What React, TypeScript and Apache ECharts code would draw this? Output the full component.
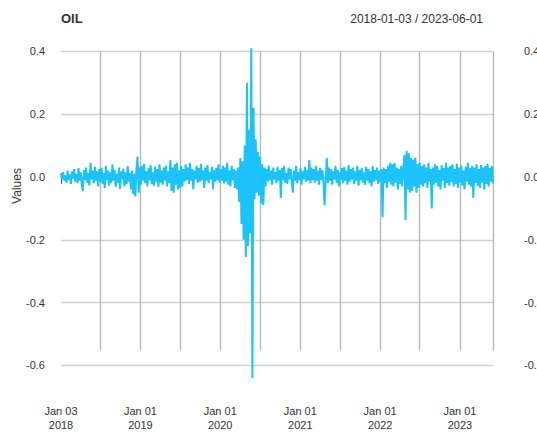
import React, { useEffect, useRef } from "react";
import * as echarts from "echarts";

// ---- data -------------------------------------------------------------
const seriesName = "OIL";
const startDate = "2018-01-03";
const endDate = "2023-06-01";
const stepDays = 5; // one reading every 5 calendar days

// daily log-returns of oil (one value per step)
const oilReturns: number[] = [
  // 2018 H1
  0.012, -0.008, 0.015, -0.012, 0.005, -0.018, 0.020, -0.010, 0.008, -0.022,
  0.018, -0.005, 0.025, -0.015, 0.010, -0.020, 0.028, -0.012, 0.015, -0.025,
  -0.045, 0.022, -0.010, 0.030, -0.018, 0.012, -0.028, 0.045, -0.008, 0.020,
  -0.020, 0.032, -0.012, 0.018, -0.030, 0.025,
  // 2018 H2
  -0.015, 0.030, -0.022, 0.012, -0.035, 0.035, -0.010, 0.020, -0.028, 0.015,
  -0.018, 0.040, -0.012, 0.022, -0.032, 0.010, -0.020, 0.030, -0.038, 0.018,
  -0.008, 0.026, -0.030, 0.015, -0.022, 0.035, -0.015, 0.012, -0.040, 0.020,
  -0.055, 0.010, -0.062, 0.025, 0.065, -0.050, 0.030,
  // 2019 H1
  -0.025, 0.035, -0.012, 0.042, -0.020, 0.018, -0.030, 0.028, -0.010, 0.038,
  -0.022, 0.015, -0.028, 0.032, -0.015, 0.025, -0.032, 0.040, -0.018, 0.020,
  -0.025, 0.030, -0.012, 0.036, -0.030, 0.018, -0.020,
  0.054, -0.045, 0.030, -0.050, 0.040, -0.025, 0.045, -0.040, 0.020, -0.035,
  0.035, -0.030, 0.025,
  // 2019 H2
  -0.015, 0.040, -0.010, 0.030, -0.022, 0.045, -0.012, 0.025, -0.040, 0.020,
  -0.008, 0.035, -0.018, 0.028, -0.015, 0.042, -0.010, 0.020, -0.035, 0.030,
  -0.012, 0.038, -0.020, 0.015, -0.008, 0.032, -0.040, 0.022, -0.015, 0.028,
  -0.010, 0.040, -0.018, 0.025, -0.012, 0.035, -0.020,
  0.030, -0.015, 0.045, -0.025, 0.020, -0.030, 0.035, -0.010, 0.025, -0.035,
  0.020,
  // 2020 crash
  -0.040, 0.030, -0.080, 0.060, -0.150, 0.050, -0.200, 0.100, -0.255, 0.300,
  -0.220, 0.150, -0.180, 0.410, -0.640, 0.220, -0.070, 0.120, -0.050, 0.080,
  -0.060, 0.065, -0.085, 0.040, -0.090, 0.030, -0.030,
  // 2020 H2
  0.025, -0.015, 0.035, -0.010, 0.020, -0.025, 0.030, -0.008, 0.015, -0.020,
  0.032, -0.012, 0.022, -0.067, 0.028, -0.010, 0.035, -0.018, 0.012, -0.022,
  0.030, -0.008, 0.025, -0.015, -0.050, 0.020, -0.012, 0.035, -0.020, 0.015,
  -0.010, 0.028, -0.025, 0.018, -0.008, 0.032, -0.015, 0.022, -0.012, 0.054,
  -0.020, 0.030, -0.010, 0.025, -0.018, 0.035, -0.012, 0.020, -0.025, 0.028,
  -0.010, 0.022, -0.015,
  -0.090, -0.010, 0.060,
  // 2021
  -0.020, 0.030, -0.012, 0.025, -0.025, 0.018, -0.008, 0.035, -0.018, 0.022,
  -0.030, 0.015, -0.010, 0.028, -0.020, 0.032, -0.012, 0.020, -0.025, 0.038,
  -0.015, 0.025, -0.008, 0.030, -0.022, 0.018, -0.012, 0.035, -0.028, 0.022,
  -0.010, 0.028, -0.018, 0.015, -0.025, 0.032, -0.012, 0.025, -0.020, 0.018,
  -0.030, 0.035, -0.015, 0.022, -0.010, 0.030, -0.022, 0.020, -0.015, 0.025,
  -0.128,
  // 2022
  0.030, -0.020, 0.025, -0.035, 0.035, -0.015, 0.045, -0.025, 0.040, -0.030,
  0.045, -0.018, 0.030, -0.040, 0.025, -0.022, 0.035, -0.030, 0.028,
  0.070, -0.137, 0.083, -0.040, 0.075, -0.050, 0.060,
  -0.045, 0.055, -0.030, 0.062, -0.050, 0.040, -0.035, 0.045, -0.025,
  0.035, -0.030, 0.040, -0.020, 0.030, -0.035, 0.045, -0.015, 0.025, -0.100,
  0.030, -0.025, 0.040, -0.018, 0.035, -0.030, 0.022, -0.040, 0.038, -0.012,
  0.028, -0.035, 0.045, -0.020, 0.030, -0.028, 0.035, -0.015, 0.040, -0.030,
  // 2023
  0.025, -0.022, 0.042, -0.035, 0.030, -0.018, 0.036, -0.028, 0.020, -0.040,
  0.032, -0.015, 0.045, -0.025, 0.028, -0.030, 0.035, -0.067, 0.030, -0.020,
  0.040, -0.028, 0.025, -0.035, 0.038, -0.018, 0.030, -0.040, 0.035, -0.022,
  0.042, -0.030, 0.028, -0.015, 0.035, -0.020,
];

const yTicks = [0.4, 0.2, 0.0, -0.2, -0.4, -0.6];
const gridDates = [
  "2018-07-01", "2019-01-01", "2019-07-01", "2020-01-01", "2020-07-01",
  "2021-01-01", "2021-07-01", "2022-01-01", "2022-07-01", "2023-01-01", "2023-06-01",
];
const tickDates = ["2018-01-03", ...gridDates];
const labelDates = ["2018-01-03", "2019-01-01", "2020-01-01", "2021-01-01", "2022-01-01", "2023-01-01"];
const monthNames = ["Jan", "Feb", "Mar", "Apr", "May", "Jun", "Jul", "Aug", "Sep", "Oct", "Nov", "Dec"];

// ---- helpers ----------------------------------------------------------
const ts = (s: string) => {
  const [y, m, d] = s.split("-").map(Number);
  return Date.UTC(y, m - 1, d);
};
const DAY = 86400000;
const W = 537;
const H = 435;

const FONT = "'Liberation Sans', Arial, Helvetica, sans-serif";

export default function App() {
  const ref = useRef<HTMLDivElement>(null);

  useEffect(() => {
    if (!ref.current) return;
    document.body.style.margin = "0";
    document.body.style.overflow = "hidden";
    document.documentElement.style.overflow = "hidden";
    const chart = echarts.init(ref.current, null, { renderer: "svg", width: W, height: H });
    const t0 = ts(startDate);
    const data = oilReturns.map((v, i) => [t0 + i * stepDays * DAY, v]);

    const option: any = {
      animation: false,
      backgroundColor: "#ffffff",
      textStyle: { fontFamily: FONT },
      title: [
        {
          text: seriesName,
          left: 61,
          top: 12,
          padding: 0,
          textStyle: { fontSize: 13, fontWeight: "bold", color: "#333333", fontFamily: FONT },
        },
        {
          text: `${startDate} / ${endDate}`,
          right: 54,
          top: 13,
          padding: 0,
          textStyle: { fontSize: 12, fontWeight: "normal", color: "#333333", fontFamily: FONT },
        },
      ],
      graphic: [
        {
          type: "text",
          x: 17,
          y: 186,
          rotation: Math.PI / 2,
          style: {
            text: "Values",
            fontSize: 12,
            fill: "#333333",
            fontFamily: FONT,
            textAlign: "center",
            textVerticalAlign: "middle",
          },
        },
      ],
      grid: {
        left: 61,
        right: 44,
        top: 45,
        bottom: 41,
        containLabel: false,
        outerBoundsMode: "none",
      },
      xAxis: {
        type: "value",
        min: ts(startDate),
        max: ts(endDate),
        axisLine: { show: true, lineStyle: { color: "#555555", width: 1 } },
        axisTick: {
          show: true,
          length: 7,
          customValues: tickDates.map(ts),
          lineStyle: { color: "#555555", width: 1 },
        },
        axisLabel: {
          show: true,
          customValues: labelDates.map(ts),
          margin: 10,
          fontSize: 11,
          lineHeight: 14,
          color: "#333333",
          fontFamily: FONT,
          hideOverlap: false,
          showMinLabel: true,
          showMaxLabel: true,
          formatter: (val: number) => {
            const d = new Date(val);
            const dd = String(d.getUTCDate()).padStart(2, "0");
            return `${monthNames[d.getUTCMonth()]} ${dd}\n${d.getUTCFullYear()}`;
          },
        },
        splitLine: { show: false },
      },
      yAxis: [
        {
          type: "value",
          min: -0.691,
          max: 0.42,
          position: "left",
          axisLine: { show: false },
          axisTick: { show: false },
          splitLine: { show: false },
          axisLabel: {
            customValues: yTicks,
            margin: 16,
            fontSize: 11,
            color: "#333333",
            fontFamily: FONT,
            formatter: (v: number) => v.toFixed(1),
          },
        },
        {
          type: "value",
          min: -0.691,
          max: 0.42,
          position: "right",
          axisLine: { show: false },
          axisTick: { show: false },
          splitLine: { show: false },
          axisLabel: {
            customValues: yTicks,
            margin: 31,
            fontSize: 11,
            color: "#333333",
            fontFamily: FONT,
            formatter: (v: number) => v.toFixed(1),
          },
        },
      ],
      series: [
        {
          name: "grid",
          type: "line",
          data,
          z: 1,
          silent: true,
          showSymbol: false,
          symbol: "none",
          lineStyle: { width: 0, opacity: 0 },
          markLine: {
            z: 1,
            silent: true,
            symbol: "none",
            label: { show: false },
            animation: false,
            data: [
              ...yTicks.map((v) => ({
                yAxis: v,
                lineStyle: { color: "#d0d0d0", width: 1.3, type: "solid" },
              })),
              ...gridDates.map((d) => [
                { coord: [ts(d), 0.4], lineStyle: { color: "#b5b5b5", width: 1.3, type: "solid" } },
                { coord: [ts(d), -0.552] },
              ]),
            ],
          },
        },
        {
          name: seriesName,
          type: "line",
          data,
          z: 6,
          showSymbol: false,
          symbol: "none",
          lineStyle: { color: "#1CC2FA", width: 2 },
          itemStyle: { color: "#1CC2FA" },
        },
      ],
    };
    chart.setOption(option);
    return () => chart.dispose();
  }, []);

  return (
    <div
      ref={ref}
      style={{ position: "fixed", left: 0, top: 0, width: W, height: H, background: "#ffffff" }}
    />
  );
}
